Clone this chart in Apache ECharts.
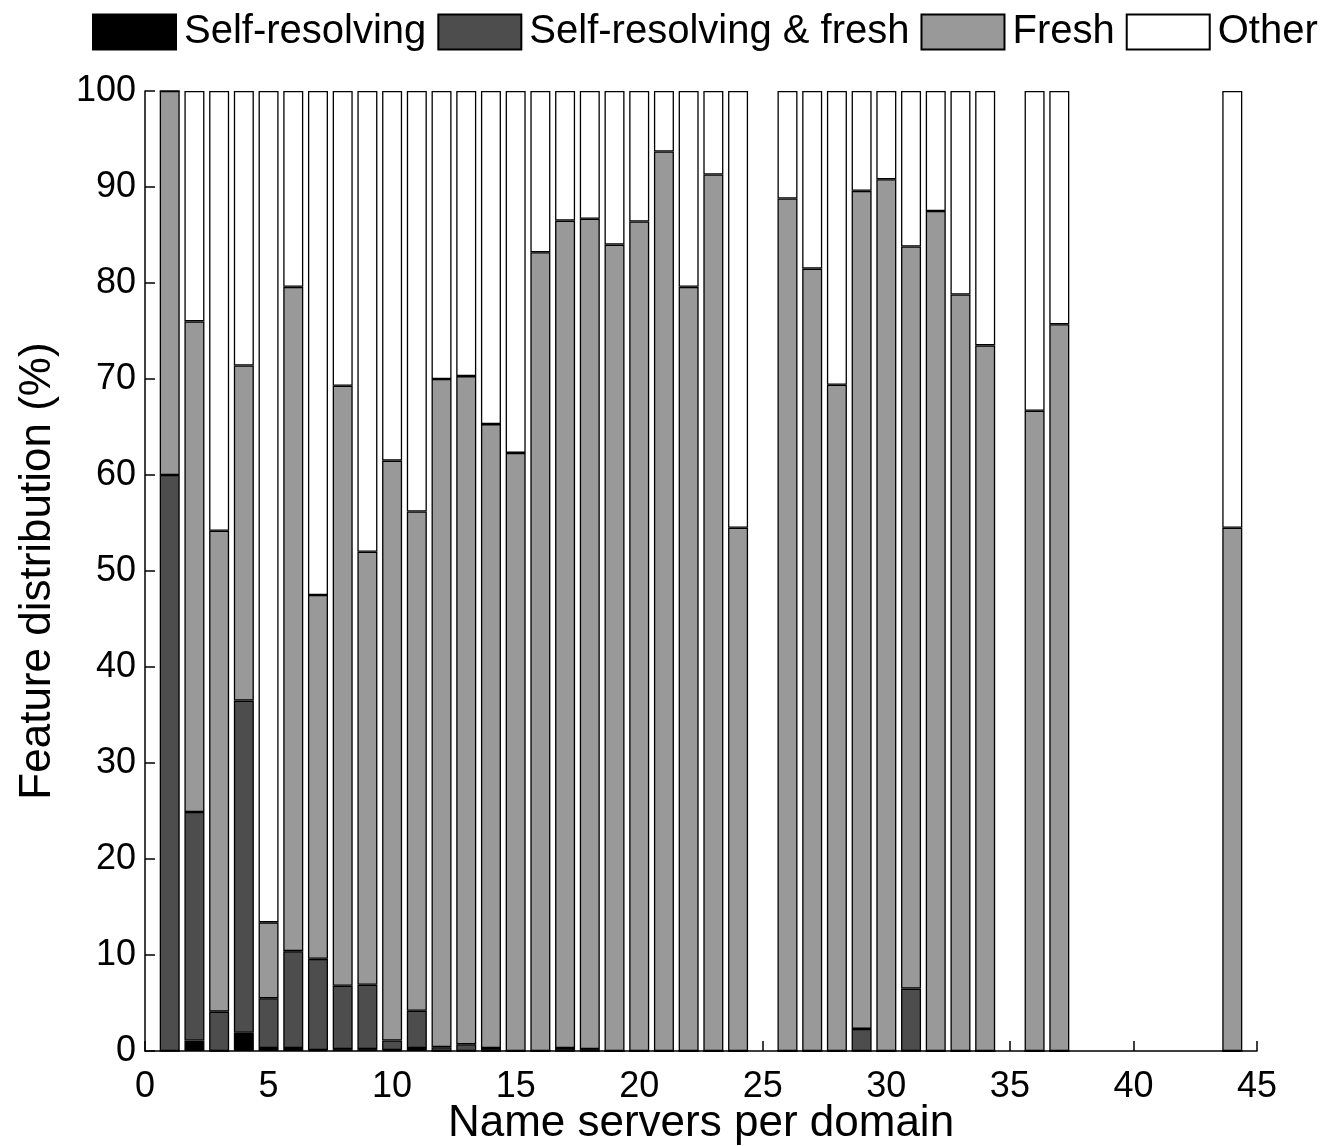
<!DOCTYPE html>
<html>
<head>
<meta charset="utf-8">
<title>Feature distribution</title>
<script src="https://cdn.jsdelivr.net/npm/echarts@6/dist/echarts.min.js"></script>
</head>
<body style="margin:0;background:#fff">
<div id="main" style="width:1323px;height:1146px"></div>
<script type="text/javascript">
// name servers per domain (x positions of the bars)
var servers = [1,2,3,4,5,6,7,8,9,10,11,12,13,14,15,16,17,18,19,20,21,22,23,24,
               26,27,28,29,30,31,32,33,34,36,37,44];
// segment heights in %
var selfRes = [0,1.1,0,1.9,0.3,0.3,0.1,0.2,0.2,0.1,0.3,0,0,0,0,0,0,0,0,0,0,0,0,0,
               0,0,0,0,0,0,0,0,0,0,0,0];
var selfResFresh = [60,23.8,4.1,34.6,5.2,10.1,9.5,6.6,6.7,1.0,3.9,0.4,0.7,0.3,0,0,0.3,0.2,0,0,0,0,0,0,
                    0,0,0,2.3,0,6.5,0,0,0,0,0,0];
var fresh = [40,51.1,50.1,34.9,7.9,69.2,37.9,62.5,45.1,60.4,52.0,69.6,69.6,65.0,62.3,83.2,86.2,86.5,84.0,86.4,93.7,79.6,91.3,54.5,
             88.8,81.5,69.4,87.3,90.8,77.3,87.5,78.8,73.5,66.7,75.7,54.5];
var other = [0,24.0,45.8,28.6,86.6,20.4,52.5,30.7,48.0,38.5,43.8,30.0,29.7,34.7,37.7,16.8,13.5,13.3,16.0,13.6,6.3,20.4,8.7,45.5,
             11.2,18.5,30.6,10.4,9.2,16.2,12.5,21.2,26.5,33.3,24.3,45.5];

var font = 'Liberation Sans';

// value first so the stack runs on the y dimension
function pairs(vals) {
    var out = [];
    for (var i = 0; i < servers.length; i++) out.push([vals[i], servers[i]]);
    return out;
}
function barSeries(name, color, vals) {
    return {
        name: name,
        type: 'bar',
        stack: 'all',
        barWidth: 20,
        encode: { x: 1, y: 0 },
        data: pairs(vals),
        itemStyle: { color: color, borderColor: '#000', borderWidth: 1.3 },
        emphasis: { disabled: true }
    };
}

var option = {
    backgroundColor: '#fff',
    animation: false,
    legend: {
        left: 92,
        top: 12,
        width: 1280,
        padding: 0,
        itemWidth: 83,
        itemHeight: 35,
        itemGap: 11,
        icon: 'rect',
        textStyle: { fontFamily: font, fontSize: 40, color: '#000', padding: [0, 0, 0, 3] },
        data: ['Self-resolving', 'Self-resolving & fresh', 'Fresh', 'Other']
    },
    grid: { left: 145, right: 66, top: 91, bottom: 95, outerBoundsMode: 'none' },
    xAxis: {
        type: 'value',
        min: 0, max: 45, interval: 5,
        name: 'Name servers per domain',
        nameLocation: 'middle',
        nameGap: 51,
        nameMoveOverlap: false,
        nameTextStyle: { fontFamily: font, fontSize: 44, color: '#000' },
        axisLine: { lineStyle: { color: '#000', width: 1.5 } },
        axisTick: { inside: true, length: 10, lineStyle: { color: '#000', width: 1.5 } },
        axisLabel: { fontFamily: font, fontSize: 36, color: '#000', margin: 18 },
        splitLine: { show: false }
    },
    yAxis: {
        type: 'value',
        min: 0, max: 100, interval: 10,
        name: 'Feature distribution (%)',
        nameLocation: 'middle',
        nameGap: 85,
        nameMoveOverlap: false,
        nameTextStyle: { fontFamily: font, fontSize: 44, color: '#000' },
        axisLine: { show: true, lineStyle: { color: '#000', width: 1.5 } },
        axisTick: { show: true, inside: true, length: 10, lineStyle: { color: '#000', width: 1.5 } },
        axisLabel: { fontFamily: font, fontSize: 36, color: '#000', margin: 9 },
        splitLine: { show: false }
    },
    series: [
        barSeries('Self-resolving', '#000000', selfRes),
        barSeries('Self-resolving & fresh', '#4d4d4d', selfResFresh),
        barSeries('Fresh', '#999999', fresh),
        barSeries('Other', '#ffffff', other)
    ]
};

var myChart = echarts.init(document.getElementById('main'));
myChart.setOption(option);
</script>
</body>
</html>
